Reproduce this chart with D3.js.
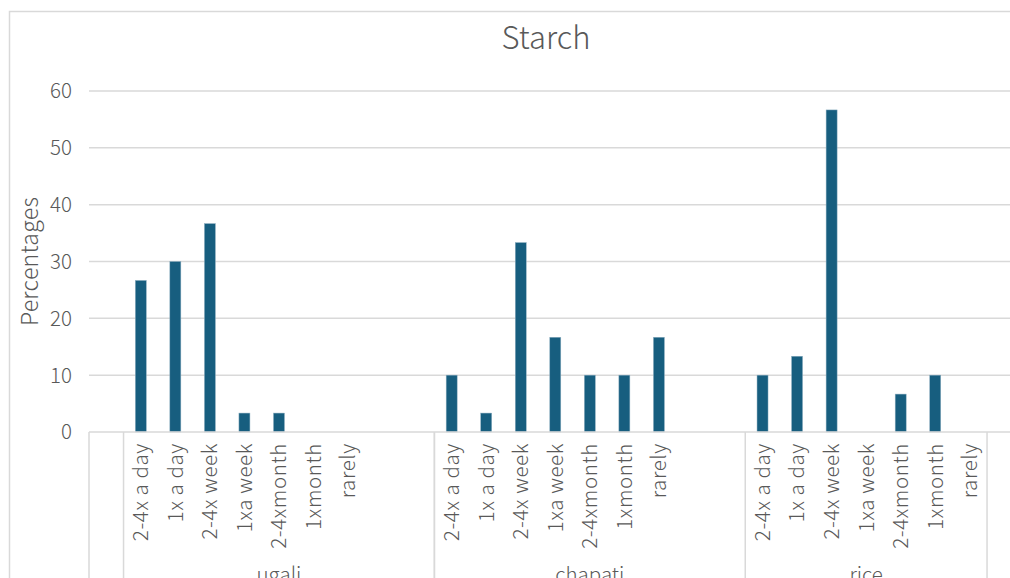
<!DOCTYPE html>
<html><head><meta charset="utf-8">
<script src="https://cdn.jsdelivr.net/npm/d3@7"></script>
<style>body{margin:0;background:#fff;} svg{display:block;font-family:"Noto Sans CJK SC","Noto Sans",sans-serif;font-weight:300;}</style>
</head><body>
<svg id="c" width="1010" height="578"></svg>
<script>
const title = "Starch";
const yLabel = "Percentages";
const categories = ["2-4x a day","1x a day","2-4x week","1xa week","2-4xmonth","1xmonth","rarely"];
const groups = ["ugali","chapati","rice"];
const ugali = [26.67,30,36.67,3.33,3.33,0,0];
const chapati = [10,3.33,33.33,16.67,10,10,16.67];
const rice = [10,13.33,56.67,0,6.67,10,0];
const yTicks = [0,10,20,30,40,50,60];
const seriesByGroup = {ugali, chapati, rice};
// blank padding slots per group as in the source sheet
const padAfter = {ugali:2, chapati:2, rice:0};

(function(){
const slots = [];
slots.push({key:"lead", group:"", label:"", value:null});
groups.forEach(g=>{
  categories.forEach((c,i)=>slots.push({key:g+"|"+c, group:g, label:c, value:seriesByGroup[g][i]}));
  for(let k=0;k<padAfter[g];k++) slots.push({key:g+"|pad"+k, group:g, label:"", value:null});
});
slots.push({key:"tail", group:"tail", label:"", value:null});

const svg = d3.select("#c");
const pLeft = 89, pTop = 91, pBottom = 432;
const slotW = 34.54;
const pRight = pLeft + slotW*slots.length;

const x = d3.scaleBand().domain(slots.map(d=>d.key)).range([pLeft,pRight]).paddingInner(0).paddingOuter(0);
const y = d3.scaleLinear().domain([0,60]).range([pBottom,pTop]);

svg.append("rect").attr("x",9.5).attr("y",11.5).attr("width",1100).attr("height",700)
  .attr("fill","none").attr("stroke","#d9d9d9").attr("stroke-width",1.5);

svg.append("text").attr("x",546).attr("y",49).attr("text-anchor","middle")
  .attr("font-size",31).attr("fill","#595959").text(title);

svg.append("g").selectAll("line").data(yTicks.filter(t=>t>0)).join("line")
  .attr("x1",pLeft).attr("x2",pRight).attr("y1",d=>y(d)).attr("y2",d=>y(d))
  .attr("stroke","#d9d9d9").attr("stroke-width",1.5);

svg.append("g").selectAll("text").data(yTicks).join("text")
  .attr("x",72).attr("y",d=>y(d)).attr("dy","0.36em").attr("text-anchor","end")
  .attr("font-size",20.5).attr("fill","#595959").text(d=>d);

svg.append("text").attr("transform",`translate(38,${(pTop+pBottom)/2}) rotate(-90)`)
  .attr("text-anchor","middle").attr("font-size",23).attr("letter-spacing",0.3).attr("fill","#595959").text(yLabel);

const bw = 11;
svg.append("g").selectAll("rect").data(slots.filter(d=>d.value!==null && d.value>0)).join("rect")
  .attr("x",d=>x(d.key)+x.bandwidth()/2-bw/2).attr("width",bw)
  .attr("y",d=>y(d.value)).attr("height",d=>y(0)-y(d.value))
  .attr("fill","#175e7f").attr("stroke","#8fb0c2").attr("stroke-width",0.5);

svg.append("line").attr("x1",pLeft).attr("x2",pRight).attr("y1",pBottom).attr("y2",pBottom)
  .attr("stroke","#d9d9d9").attr("stroke-width",1.5);

const sepGroups = ["", ...groups, "tail"];
const bounds = [];
sepGroups.forEach(g=>{
  const s = slots.filter(d=>d.group===g);
  bounds.push({g, x0:x(s[0].key), x1:x(s[s.length-1].key)+x.bandwidth()});
});
const sepX = Array.from(new Set(bounds.flatMap(b=>[b.x0,b.x1])));
svg.append("g").selectAll("line").data(sepX).join("line")
  .attr("x1",d=>d).attr("x2",d=>d).attr("y1",pBottom).attr("y2",600)
  .attr("stroke","#d9d9d9").attr("stroke-width",1.5);

svg.append("g").selectAll("text").data(slots.filter(d=>d.label)).join("text")
  .attr("transform",d=>`translate(${x(d.key)+x.bandwidth()/2},${pBottom+11}) rotate(-90)`)
  .attr("text-anchor","end").attr("dy","0.36em").attr("letter-spacing",0.6)
  .attr("font-size",20.5).attr("fill","#595959").text(d=>d.label);

svg.append("g").selectAll("text").data(bounds.filter(b=>groups.includes(b.g))).join("text")
  .attr("x",d=>(d.x0+d.x1)/2).attr("y",582).attr("text-anchor","middle")
  .attr("font-size",20.5).attr("fill","#595959").text(d=>d.g);
})();
</script>
</body></html>
